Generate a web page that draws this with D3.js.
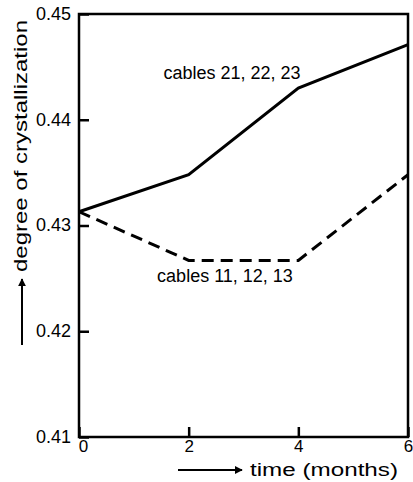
<!DOCTYPE html>
<html><head><meta charset="utf-8">
<script src="https://cdn.jsdelivr.net/npm/d3@7"></script>
<style>body{margin:0;background:#fff}svg{display:block}text{font-family:"Liberation Sans",Arial,sans-serif;fill:#000}</style>
</head><body>
<script>
const months = [0, 2, 4, 6];
const cables2x = [0.4313, 0.4348, 0.4430, 0.4471];
const cables1x = [0.4313, 0.4267, 0.4267, 0.4348];
const yTicks = [0.41, 0.42, 0.43, 0.44, 0.45];
const xTicks = [0, 2, 4, 6];
const seriesLabels = ["cables 21, 22, 23", "cables 11, 12, 13"];

const W = 413, H = 482;
const svg = d3.select("body").append("svg").attr("width", W).attr("height", H);
const x = d3.scaleLinear().domain([0, 6]).range([79, 408]);
const y = d3.scaleLinear().domain([0.41, 0.45]).range([437, 14]);

// frame
svg.append("rect").attr("x", x(0)).attr("y", y(0.45)).attr("width", x(6) - x(0)).attr("height", y(0.41) - y(0.45))
  .attr("fill", "none").attr("stroke", "#000").attr("stroke-width", 2.5);

const ya = svg.append("g").attr("transform", `translate(${x(0)},0)`)
  .call(d3.axisLeft(y).tickValues(yTicks).tickSize(-10).tickPadding(8).tickFormat(d3.format(".2f")));
ya.select(".domain").remove();
ya.selectAll("line").attr("stroke", "#000").attr("stroke-width", 2.5);
ya.selectAll("text").attr("font-size", 18).style("font-family", "Liberation Sans, Arial, sans-serif").attr("dy", "0.3em");

const xa = svg.append("g").attr("transform", `translate(0,${y(0.41)})`)
  .call(d3.axisBottom(x).tickValues(xTicks).tickSize(-10).tickPadding(2).tickFormat(d3.format("d")));
xa.select(".domain").remove();
xa.selectAll("line").attr("stroke", "#000").attr("stroke-width", 2.5);
xa.selectAll("text").attr("font-size", 17).style("font-family", "Liberation Sans, Arial, sans-serif").attr("dy", "0.75em");
xa.selectAll(".tick").filter(d => d === 0).select("text").attr("dx", 4);

const line = d3.line().x((d, i) => x(months[i])).y(d => y(d));
svg.append("path").datum(cables2x).attr("d", line).attr("fill", "none").attr("stroke", "#000").attr("stroke-width", 3);
svg.append("path").datum(cables1x).attr("d", line).attr("fill", "none").attr("stroke", "#000").attr("stroke-width", 3).attr("stroke-dasharray", "12,7");

svg.append("text").attr("x", 232).attr("y", 79).attr("text-anchor", "middle").attr("font-size", 18).text(seriesLabels[0]);
svg.append("text").attr("x", 225).attr("y", 282).attr("text-anchor", "middle").attr("font-size", 18).text(seriesLabels[1]);

// y axis title with arrow
svg.append("text").attr("transform", "translate(27,272) rotate(-90)").attr("font-size", 19).attr("textLength", 252).attr("lengthAdjust", "spacingAndGlyphs").text("degree of crystallization");
const defs = svg.append("defs");
defs.append("marker").attr("id", "ah").attr("viewBox", "0 0 10 10").attr("refX", 9).attr("refY", 5)
  .attr("markerWidth", 4).attr("markerHeight", 4).attr("orient", "auto")
  .append("path").attr("d", "M0,0L10,5L0,10z").attr("fill", "#000");
svg.append("line").attr("x1", 22).attr("y1", 345).attr("x2", 22).attr("y2", 279).attr("stroke", "#000").attr("stroke-width", 2).attr("marker-end", "url(#ah)");

// x axis title with arrow
svg.append("line").attr("x1", 178).attr("y1", 470).attr("x2", 242).attr("y2", 470).attr("stroke", "#000").attr("stroke-width", 2).attr("marker-end", "url(#ah)");
svg.append("text").attr("x", 250).attr("y", 476).attr("font-size", 18).attr("textLength", 148).attr("lengthAdjust", "spacingAndGlyphs").text("time (months)");
</script>
</body></html>
